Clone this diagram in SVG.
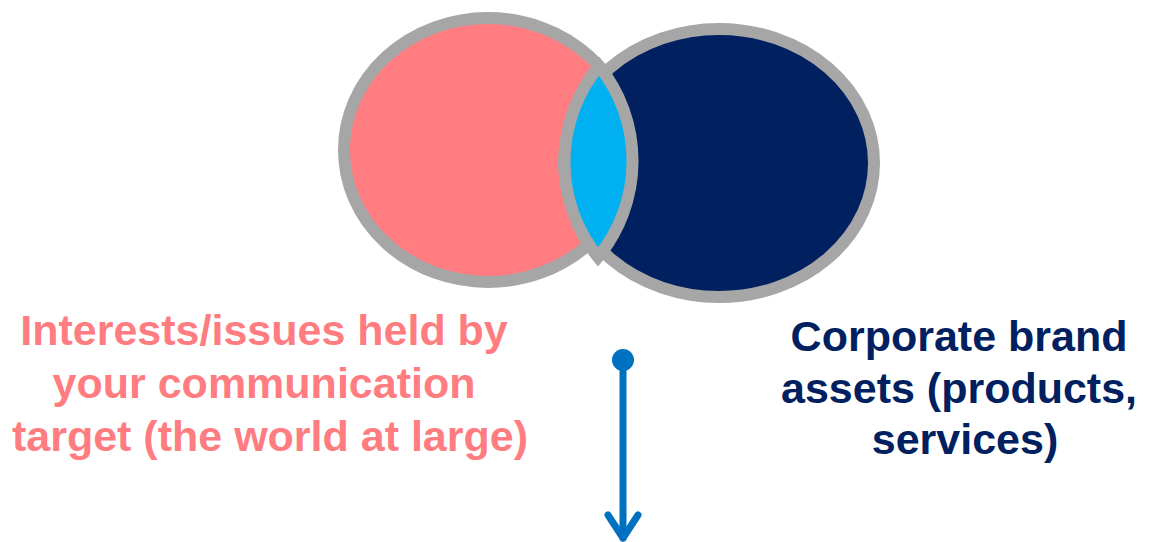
<svg xmlns="http://www.w3.org/2000/svg" width="1153" height="542" viewBox="0 0 1153 542">
  <style>
    .ring { stroke: #A6A6A6; stroke-width: 12; stroke-linejoin: miter; stroke-miterlimit: 10; }
    .label { font-family: "Liberation Sans", Arial, sans-serif; font-weight: bold; font-size: 43px; text-anchor: middle; }
  </style>
  <rect width="1153" height="542" fill="#FFFFFF"/>

  <!-- two overlapping sets, with the shared area drawn on top -->
  <g id="interests">
    <ellipse class="ring" cx="488" cy="150" rx="144" ry="132" fill="#FF7C80"/>
  </g>
  <g id="brand-assets">
    <ellipse class="ring" cx="719" cy="163" rx="155" ry="134" fill="#002060"/>
  </g>
  <g id="overlap">
    <path class="ring" d="M 599 66 A 151 151 0 0 0 598 257 A 151 151 0 0 0 599 66 Z" fill="#00B0F0"/>
  </g>

  <g id="interests-label">
    <text class="label" fill="#FF7C80">
      <tspan x="270" y="345">Interests/issues held by</tspan>
      <tspan x="270" y="398">your communication</tspan>
      <tspan x="270" y="451">target (the world at large)</tspan>
    </text>
  </g>
  <g id="brand-label">
    <text class="label" fill="#002060">
      <tspan x="965" y="351">Corporate brand</tspan>
      <tspan x="965" y="403">assets (products,</tspan>
      <tspan x="965" y="454">services)</tspan>
    </text>
  </g>

  <!-- downward arrow with a round start dot and open head -->
  <g id="connectors" stroke="#0070C0" stroke-width="7" stroke-linecap="round" fill="none">
    <circle cx="623" cy="360" r="11" fill="#0070C0" stroke="none"/>
    <line x1="623" y1="360" x2="623" y2="538"/>
    <polyline points="608,515 623,538 638,515" stroke-linejoin="round"/>
  </g>
</svg>
